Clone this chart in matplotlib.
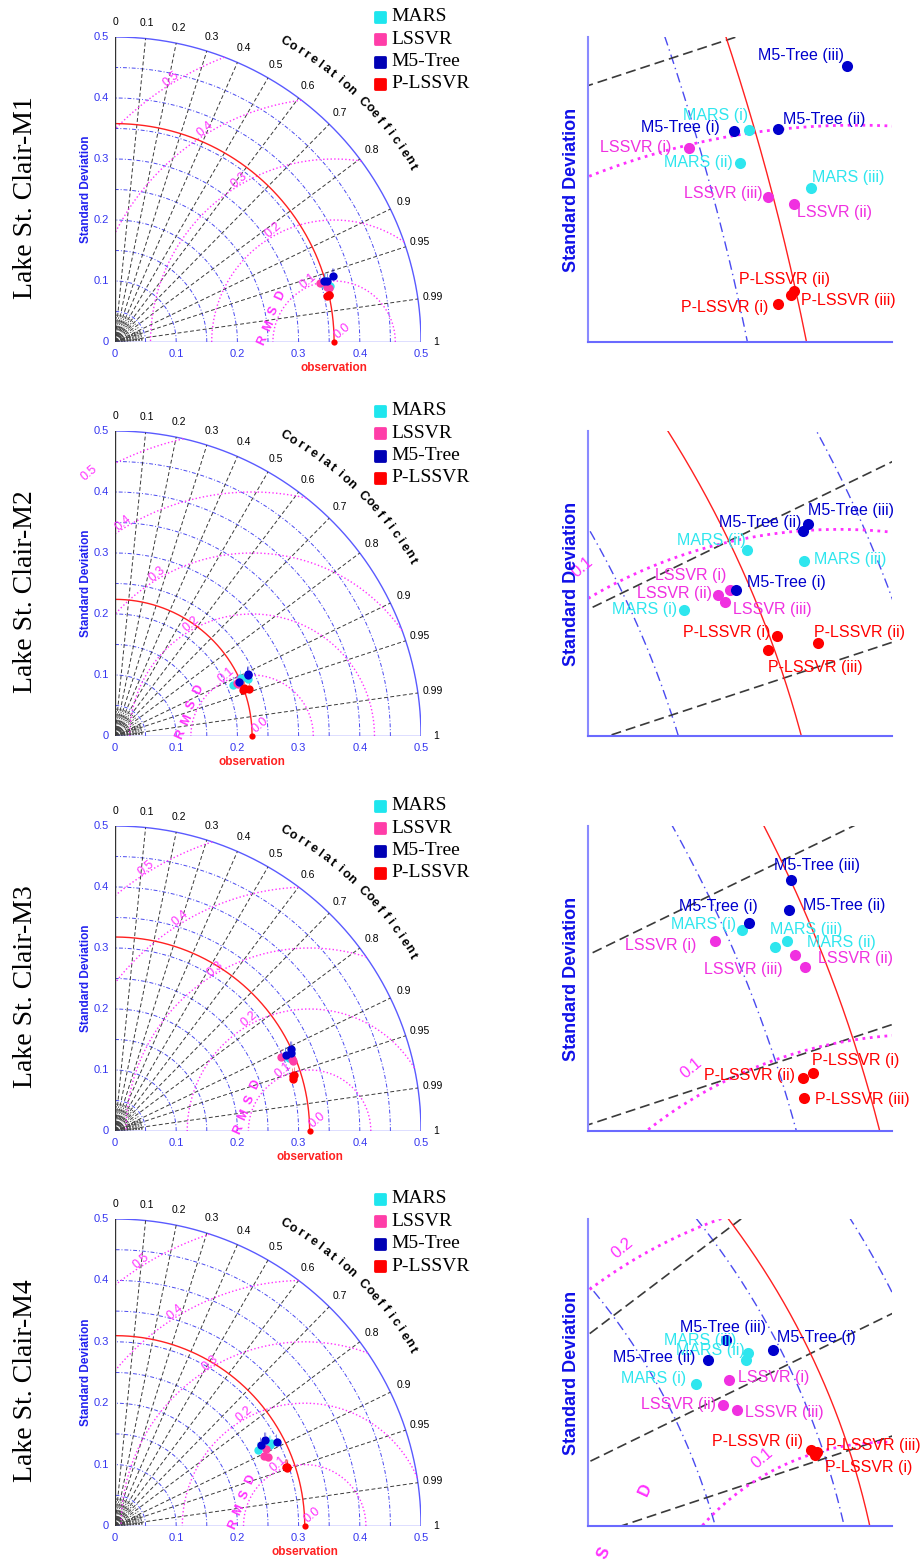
"""
Taylor-Diagramme Lake St. Clair (M1..M4) mit Ausschnittvergroesserung rechts.
"""

import numpy as np
import matplotlib.pyplot as plt
from matplotlib.markers import MarkerStyle

plt.rcParams["font.family"] = ["Liberation Sans", "DejaVu Sans"]

W_PX, H_PX = 923, 1559

ROW_LABELS = ["Lake St. Clair-M1", "Lake St. Clair-M2",
              "Lake St. Clair-M3", "Lake St. Clair-M4"]
MODELS = ["MARS", "LSSVR", "M5-Tree", "P-LSSVR"]
VARIANTS = ["(i)", "(ii)", "(iii)"]
SMALL_VARIANTS = ["i", "ii", "iii"]

# Standardabweichung der Beobachtung je Station
OBS_STD = [0.358, 0.224, 0.318, 0.310]

# Taylor-Koordinaten (std*R, std*sqrt(1-R^2)), je Zeile Varianten i, ii, iii
MARS_X = [[0.3431, 0.3419, 0.3517], [0.1925, 0.2053, 0.2169],
          [0.2775, 0.2874, 0.2848], [0.2330, 0.2530, 0.2541]]
MARS_Y = [[0.0993, 0.0947, 0.0913], [0.0836, 0.0958, 0.0937],
          [0.1233, 0.1209, 0.1194], [0.1232, 0.1326, 0.1355]]
LSSVR_X = [[0.3348, 0.3494, 0.3458], [0.2018, 0.1993, 0.2009],
           [0.2713, 0.2892, 0.2914], [0.2463, 0.2441, 0.2495]]
LSSVR_Y = [[0.0969, 0.0891, 0.0900], [0.0878, 0.0867, 0.0854],
           [0.1207, 0.1176, 0.1150], [0.1248, 0.1148, 0.1129]]
M5_X = [[0.3411, 0.3472, 0.3567], [0.2030, 0.2167, 0.2177],
        [0.2789, 0.2880, 0.2883], [0.2641, 0.2381, 0.2452]]
M5_Y = [[0.0992, 0.0995, 0.1082], [0.0878, 0.0996, 0.1011],
        [0.1248, 0.1278, 0.1344], [0.1366, 0.1325, 0.1404]]
PL_X = [[0.3471, 0.3493, 0.3489], [0.2114, 0.2196, 0.2095],
        [0.2933, 0.2911, 0.2913], [0.2807, 0.2794, 0.2816]]
PL_Y = [[0.0752, 0.0771, 0.0765], [0.0785, 0.0771, 0.0755],
        [0.0915, 0.0902, 0.0859], [0.0950, 0.0968, 0.0963]]

# Ausschnitt der rechten Diagramme
ZOOM_XLIM = [(0.3209, 0.3629), (0.1730, 0.2347), (0.2430, 0.3109), (0.1900, 0.3116)]
ZOOM_YLIM = [(0.0700, 0.1122), (0.0582, 0.1199), (0.0785, 0.1464), (0.0668, 0.1884)]

# Gitter des Taylor-Diagramms
STD_TICKS = [0, 0.1, 0.2, 0.3, 0.4, 0.5]
STD_RINGS = [0.05, 0.10, 0.15, 0.20, 0.25, 0.30, 0.35, 0.40, 0.45]
CORR_TICKS = [0, 0.1, 0.2, 0.3, 0.4, 0.5, 0.6, 0.7, 0.8, 0.9, 0.95, 0.99, 1]
CORR_LINES = [0.1, 0.2, 0.3, 0.4, 0.5, 0.6, 0.7, 0.8, 0.9, 0.95, 0.99]
CORR_SHORT = [0.05, 0.15, 0.25, 0.35, 0.45, 0.55, 0.65, 0.75, 0.85,
              0.91, 0.92, 0.93, 0.94, 0.96, 0.97, 0.98, 0.992, 0.994, 0.996, 0.998]
RMSD_RINGS = [0.1, 0.2, 0.3, 0.4, 0.5]
RMSD_LABELS = [0.0, 0.1, 0.2, 0.3, 0.4, 0.5]

# Farben
COL_PT = {"MARS": "#2EE6EE", "LSSVR": "#F030E0", "M5-Tree": "#0000CC", "P-LSSVR": "#FF0000"}
COL_LEG = {"MARS": "#1EE6EE", "LSSVR": "#FF3DA8", "M5-Tree": "#0000B4", "P-LSSVR": "#FF0000"}
BLUE = "#4A4AF0"
MAGENTA = "#FF30FF"

# Beschriftungsversatz (px) der Punktlabels rechts: (dx, dy, ha) fuer i, ii, iii
LABEL_OFFS = [
    {"MARS": [(-1, 15, "right"), (-7, 1, "right"), (1, 11, "left")],
     "LSSVR": [(-17, 0, "right"), (3, -9, "left"), (-6, 4, "right")],
     "M5-Tree": [(-14, 3, "right"), (5, 9, "left"), (-3, 10, "right")],
     "P-LSSVR": [(-9, -3, "right"), (-55, 11, "left"), (10, -5, "left")]},
    {"MARS": [(-7, 1, "right"), (-1, 10, "right"), (10, 1, "left")],
     "LSSVR": [(-4, 14, "right"), (-6, 2, "right"), (8, -8, "left")],
     "M5-Tree": [(11, 7, "left"), (-2, 9, "right"), (0, 13, "left")],
     "P-LSSVR": [(-7, 3, "right"), (-4, 10, "left"), (0, -17, "left")]},
    {"MARS": [(-6, 5, "right"), (20, -2, "left"), (-5, 18, "left")],
     "LSSVR": [(-18, -4, "right"), (23, -3, "left"), (-22, -2, "right")],
     "M5-Tree": [(9, 17, "right"), (14, 4, "left"), (-17, 14, "left")],
     "P-LSSVR": [(-1, 12, "left"), (-8, 3, "right"), (11, -2, "left")]},
    {"MARS": [(-9, 5, "right"), (-1, 9, "right"), (-12, 12, "right")],
     "LSSVR": [(9, 2, "left"), (-7, 0, "right"), (8, -3, "left")],
     "M5-Tree": [(4, 12, "left"), (-13, 3, "right"), (-46, 13, "left")],
     "P-LSSVR": [(10, -13, "left"), (-8, 9, "right"), (9, 6, "left")]},
]

# Lage der Diagramme in Pixeln
ROW_TOP = [37, 431, 826, 1219]
ROW_BOT = [342, 736, 1131, 1526]
LEFT_X = (115, 421)
RIGHT_X = (588, 892)


def rect(x0, x1, top, bot):
    return [x0 / W_PX, 1 - bot / H_PX, (x1 - x0) / W_PX, (bot - top) / H_PX]


def punkte(row):
    return {"MARS": (MARS_X[row], MARS_Y[row]),
            "LSSVR": (LSSVR_X[row], LSSVR_Y[row]),
            "M5-Tree": (M5_X[row], M5_Y[row]),
            "P-LSSVR": (PL_X[row], PL_Y[row])}


def gitter(ax, obs, zoom=False):
    t = np.linspace(0, np.pi / 2, 3000)
    lw = 1.0 if zoom else 0.7
    dd = (0, (7, 3, 1, 3)) if zoom else (0, (4, 2, 1, 2))
    for s in STD_RINGS:
        ax.plot(s * np.cos(t), s * np.sin(t), color=BLUE, lw=lw, ls=dd)
    ax.plot(0.5 * np.cos(t), 0.5 * np.sin(t), color="#5A5AFF", lw=1.0)
    for c in CORR_LINES:
        th = np.arccos(c)
        ax.plot([0, 0.5 * np.cos(th)], [0, 0.5 * np.sin(th)], color="#3A3A3A",
                lw=1.2 if zoom else 0.7, ls=(0, (6, 3)) if zoom else (0, (4, 2.5)))
    if not zoom:
        for c in CORR_SHORT:
            th = np.arccos(c)
            ax.plot([0, 0.045 * np.cos(th)], [0, 0.045 * np.sin(th)], color="#444444",
                    lw=0.6, ls=(0, (2, 1.5)))
    tr = np.linspace(0, np.pi, 6000)
    for r in RMSD_RINGS:
        x = obs + r * np.cos(tr)
        y = r * np.sin(tr)
        ok = (x >= 0) & (x ** 2 + y ** 2 <= 0.25)
        x = np.where(ok, x, np.nan)
        ax.plot(x, y, color=MAGENTA, lw=2.0 if zoom else 1.0, ls=":")
    ax.plot(obs * np.cos(t), obs * np.sin(t), color="#FF2020", lw=1.0)


def rmsd_texte(ax, obs, fs, check=None, zoom=False):
    d = np.deg2rad(124)
    for r in RMSD_LABELS:
        px, py = obs + r * np.cos(d) + 0.002, r * np.sin(d) + 0.008
        if check is not None and not check(px, py):
            continue
        ax.text(px, py, f"{r:.1f}", color=MAGENTA, fontsize=fs, rotation=40,
                ha="left", va="center", rotation_mode="anchor")
    for k, ch in enumerate("RMSD"):
        if zoom:
            px, py = obs - 0.147 + k * 0.0167, 0.0066 + k * 0.0248
        else:
            px, py = obs - 0.117 + k * 0.0095, 0.002 + k * 0.0245
        if check is not None and not check(px, py):
            continue
        ax.text(px, py, ch, color=MAGENTA, fontsize=fs, fontweight="bold",
                rotation=65, ha="center", va="center")


def taylor_links(ax, row):
    obs = OBS_STD[row]
    ax.set_xlim(0, 0.5)
    ax.set_ylim(0, 0.5)
    ax.axis("off")
    gitter(ax, obs)
    ax.plot([0, 0.5], [0, 0], color="#5A5AFF", lw=1.0)
    ax.plot([0, 0], [0, 0.5], color="#333333", lw=1.0)

    for v in STD_TICKS:
        ax.text(v, -0.019, f"{v:g}", color="#3535F0", fontsize=8, ha="center", va="center")
        ax.text(-0.01, v, f"{v:g}", color="#3535F0", fontsize=8, ha="right", va="center")
    for c in CORR_TICKS:
        th = np.arccos(c)
        ax.text(0.525 * np.cos(th), 0.525 * np.sin(th), f"{c:g}", fontsize=7.5,
                ha="center", va="center")
    titel = "Correlation Coefficient"
    winkel = np.linspace(60.5, 30.5, len(titel))
    for ch, a in zip(titel, winkel):
        ar = np.deg2rad(a)
        ax.text(0.565 * np.cos(ar), 0.565 * np.sin(ar), ch, fontsize=9, fontweight="bold",
                rotation=a - 90, ha="center", va="center")
    ax.text(-0.047, 0.25, "Standard Deviation", color="#2020F0", fontsize=8.5,
            fontweight="bold", rotation=90, ha="center", va="center")
    ax.text(obs, -0.043, "observation", color="#FF2020", fontsize=8.5,
            fontweight="bold", ha="center", va="center")
    rmsd_texte(ax, obs, 9)

    for name, (xs, ys) in punkte(row).items():
        ax.plot(xs, ys, "o", color=COL_PT[name] if name != "LSSVR" else COL_LEG[name],
                ms=6, mec="none", zorder=5)
        for x, y, lab in zip(xs, ys, SMALL_VARIANTS):
            ax.annotate(lab, (x, y), xytext=(0, 3), textcoords="offset pixels",
                        fontsize=3.5, color=COL_PT[name], ha="center", va="bottom")
    ax.plot([obs], [0], "o", color="#FF0000", ms=4.5, mec="none", clip_on=False, zorder=5)

    # Legende
    mk = MarkerStyle("s", joinstyle="round")
    for k, name in enumerate(MODELS):
        yy = 0.533 - k * 0.0366
        ax.plot([0.433], [yy], marker=mk, color=COL_LEG[name], ms=7, mew=2,
                mec=COL_LEG[name], clip_on=False)
        ax.text(0.452, yy, name, fontsize=14, family=["Liberation Serif", "DejaVu Serif"],
                ha="left", va="center")


def taylor_rechts(ax, row):
    obs = OBS_STD[row]
    x0, x1 = ZOOM_XLIM[row]
    y0, y1 = ZOOM_YLIM[row]
    gitter(ax, obs, zoom=True)
    ax.set_xlim(x0, x1)
    ax.set_ylim(y0, y1)
    for s in ["top", "right"]:
        ax.spines[s].set_visible(False)
    ax.spines["left"].set_color("#8A8AFF")
    ax.spines["bottom"].set_color("#6A6AFF")
    ax.spines["left"].set_linewidth(1.5)
    ax.spines["bottom"].set_linewidth(1.5)
    ax.set_xticks([])
    ax.set_yticks([])

    def sichtbar(px, py):
        u = (px - x0) / (x1 - x0)
        v = (py - y0) / (y1 - y0)
        return -0.15 <= u <= 1.1 and -0.15 <= v <= 1.1

    rmsd_texte(ax, obs, 12, check=sichtbar, zoom=True)

    for name, (xs, ys) in punkte(row).items():
        ax.plot(xs, ys, "o", color=COL_PT[name], ms=8, mec="none", zorder=5)
        for x, y, lab, (dx, dy, ha) in zip(xs, ys, VARIANTS, LABEL_OFFS[row][name]):
            ax.annotate(f"{name} {lab}", (x, y), xytext=(dx, dy), textcoords="offset pixels",
                        fontsize=11.5, color=COL_PT[name], ha=ha, va="center", zorder=6)


fig = plt.figure(figsize=(W_PX / 100, H_PX / 100), dpi=100)
fig.patch.set_facecolor("white")

for row in range(4):
    axl = fig.add_axes(rect(*LEFT_X, ROW_TOP[row], ROW_BOT[row]))
    taylor_links(axl, row)
    axr = fig.add_axes(rect(*RIGHT_X, ROW_TOP[row], ROW_BOT[row]))
    taylor_rechts(axr, row)

    mitte = (ROW_TOP[row] + ROW_BOT[row]) / 2 + 8
    fig.text(26 / W_PX, 1 - mitte / H_PX, ROW_LABELS[row], rotation=90, fontsize=20,
             family=["Liberation Serif", "DejaVu Serif"], ha="center", va="center")
    fig.text(572 / W_PX, 1 - (mitte - 8) / H_PX, "Standard Deviation", rotation=90,
             fontsize=13, fontweight="bold", color="#1010E8", ha="center", va="center")

fig.savefig("out.png", dpi=100, facecolor="white")
